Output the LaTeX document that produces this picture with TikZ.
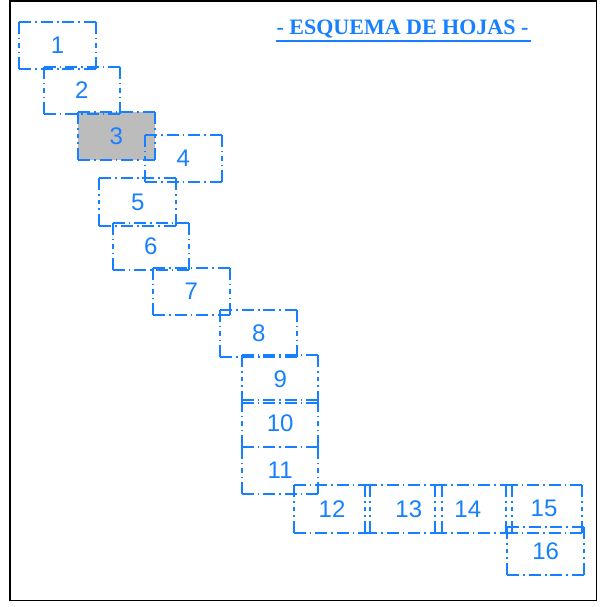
\documentclass[tikz,border=0pt]{standalone}
\usepackage{fontspec}
\setmainfont{Liberation Serif}
\newfontfamily\arialfont{Liberation Sans}
\definecolor{hojablue}{RGB}{22,128,255}
\definecolor{hojagray}{RGB}{188,188,188}
\begin{document}
\begin{tikzpicture}[x=1pt,y=-1pt,
  hoja/.style={rectangle,draw=none,minimum width=76.5pt,minimum height=47.5pt,
    inner sep=0pt,outer sep=0pt,text=hojablue,font=\arialfont\fontsize{24}{24}\selectfont},
  num/.style={text=hojablue,font=\arialfont\fontsize{24}{24}\selectfont,inner sep=0pt},
  dd/.style={draw=hojablue,line width=2pt,dash pattern=on 12pt off 4pt on 1.5pt off 4pt},
  titulo/.style={text=hojablue,font=\bfseries\fontsize{22}{22}\selectfont,inner sep=0pt,anchor=base}]
\useasboundingbox (0,0) rectangle (603,607);
\draw[line width=1.6pt,black] (10,1) rectangle (596.5,600.5);
% title
\node[titulo] (titulo) at (402.5,34.5) {- ESQUEMA DE HOJAS -};
\coordinate (ula) at (275.7,40.7);
\coordinate (ulb) at (530.7,40.7);
\draw[hojablue,line width=2pt] (ula) -- (ulb);
% sheets
\node[hoja] (h1) at (57.5,45.3) {1};
\node[hoja] (h2) at (81.9,90.3) {2};
\node[hoja,fill=hojagray] (h3) at (116.3,136.2) {3};
\node[hoja] (h4) at (183.4,158.5) {4};
\node[hoja] (h5) at (137.7,202.2) {5};
\node[hoja] (h6) at (150.9,246.7) {6};
\node[hoja] (h7) at (191.3,291.7) {7};
\node[hoja] (h8) at (258.7,333.7) {8};
\node[hoja] (h9) at (280.2,378.8) {9};
\node[hoja] (h10) at (280.2,423.5) {10};
\node[hoja] (h11) at (280.2,470.5) {11};
\node[hoja] (h12) at (332,508.8) {12};
\node[hoja,label={[num,xshift=5.5pt]center:13}] (h13) at (403.3,508.8) {};
\node[hoja,label={[num,xshift=-5.5pt]center:14}] (h14) at (473.3,508.8) {};
\node[hoja] (h15) at (544,508.8) {15};
\node[hoja] (h16) at (545.7,551.2) {16};
\foreach \n in {h1,h2,h3,h4,h5,h6,h7,h8,h9,h10,h11,h12,h13,h14,h15,h16}{
  \draw[dd] (\n.north west) -- (\n.north);
  \draw[dd] (\n.north east) -- (\n.north);
  \draw[dd] (\n.south west) -- (\n.south);
  \draw[dd] (\n.south east) -- (\n.south);
  \draw[dd] (\n.north west) -- (\n.west);
  \draw[dd] (\n.south west) -- (\n.west);
  \draw[dd] (\n.north east) -- (\n.east);
  \draw[dd] (\n.south east) -- (\n.east);
}
\end{tikzpicture}
\end{document}
